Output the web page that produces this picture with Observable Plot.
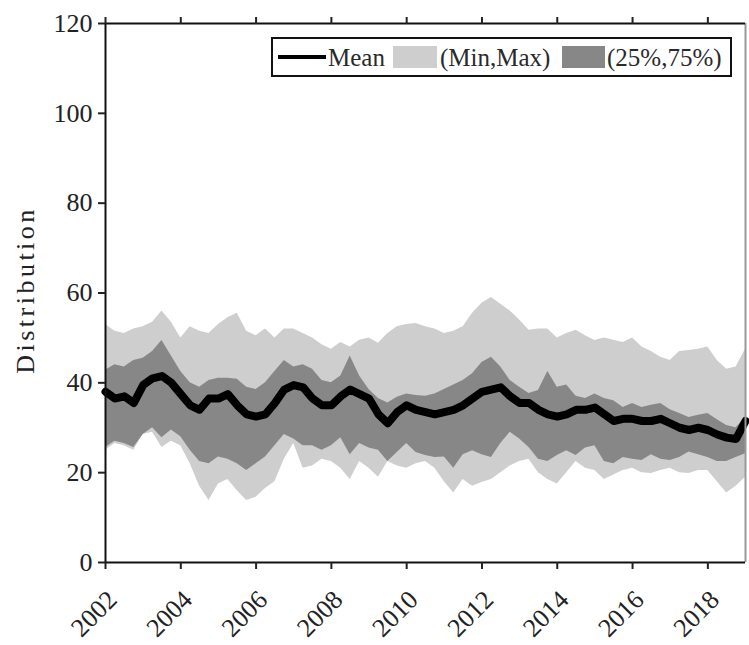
<!DOCTYPE html>
<html>
<head>
<meta charset="utf-8">
<script src="https://cdn.jsdelivr.net/npm/d3@7"></script>
<script src="https://cdn.jsdelivr.net/npm/@observablehq/plot@0.6"></script>
<style>
  html, body { margin: 0; padding: 0; background: #fff; }
  #chart svg { display: block; }
</style>
</head>
<body>
<div id="chart"></div>
<script>
// Time (years, quarterly)
const years = d3.range(0, 69).map(i => 2002 + i * 0.25);

const meanV = [38,36.5,37,35.5,39.5,41,41.5,40,37.5,35,34,36.5,36.5,37.5,35,33,32.5,33,35.5,38.5,39.5,39,36.5,35,35,37,38.5,37.5,36.5,33,31,33.5,35,34,33.5,33,33.5,34,35,36.5,38,38.5,39,37,35.5,35.5,34,33,32.5,33,34,34,34.5,33,31.5,32,32,31.5,31.5,32,31,30,29.5,30,29.5,28.5,27.8,27.5,31.5];

const maxV = [53,51.5,51,52,52.5,53.5,56,53.5,50,52.5,51.5,51,53,54.5,55.5,51.5,50.5,52,50,52,52,51,50,48.5,47.5,49,48,49.5,50,48.8,51,52.5,53,53.2,52.5,52,51,51.5,52.5,55.5,57.7,59,57.5,56,54,51.7,52,52,50,51,51.7,50.5,49.4,50,49.5,49,50,48,47,45.7,45,47,47.2,47.5,48,45,43,43.5,47.5];

const minV = [25,26.5,26,25,28.5,29,25.6,27,26,22,17,13.8,17.5,18.5,16,13.8,14.5,16.5,18,23,26.5,21,21.5,23,22.5,21,18.5,22.5,21,19,22.5,21.5,21,22,22.5,21,18,15.5,18.5,17,17.8,18.5,20,21.5,22.5,23,20,18.5,17.5,20,22.5,21,20.5,18.5,19.5,20.5,21,20,19.8,20.5,21,20,19.8,20.5,20.5,18,15.5,17,19];

const q75V = [42.8,44,43.5,45,45.5,47,49.4,46,42.5,40,39,40.5,41,41,40.8,39,38.5,40,42.5,45,43.5,44,43,40.5,40,41.5,46,41.5,38.5,36.5,35.5,36.8,37.5,37.2,37,37.5,38.5,39.5,40.5,42,44.5,45.7,43.5,40.5,39,37.6,38.3,42.5,39,39.5,37,36.5,37.5,36.5,36,34.5,35.4,34.5,35,35.4,34,33.2,32.3,32.8,33.2,31.8,30.5,30,32.3];

const q25V = [25.6,27,26.5,25.6,28.5,30,27.8,29.5,28,25,22.5,22,23.5,23,22,20.5,22,23.5,26,28.5,27.5,26,26,25,26,27.8,24,26.5,25.5,25,22.5,24.5,26.5,24.5,23.8,23.4,23.5,21,24,24.9,24,23.4,26.5,29,27.5,25.6,23,22.5,23.8,24.9,23.8,25.5,26,22.5,22,23.4,23,22.7,24,23,22.7,23.4,24.6,24,23.4,22.5,22.5,23.4,24.2];

const xTicks = [2002,2004,2006,2008,2010,2012,2014,2016,2018];
const yTicks = [0,20,40,60,80,100,120];
const xDomain = [2002, 2019];
const yDomain = [0, 120];

const legendLabels = ["Mean", "(Min,Max)", "(25%,75%)"];
const yLabel = "Distribution";

const lightGray = "#cecece";
const darkGray = "#878787";

const data = years.map((t, i) => ({
  t, mean: meanV[i], min: minV[i], max: maxV[i], q25: q25V[i], q75: q75V[i]
}));

const FONT = "'Liberation Serif', 'DejaVu Serif', serif";

const chart = Plot.plot({
  width: 749,
  height: 645,
  marginLeft: 105,
  marginRight: 4,
  marginTop: 23,
  marginBottom: 83,
  style: { fontFamily: FONT, fontSize: "26px", color: "#222", background: "#fff" },
  x: { domain: xDomain },
  y: { domain: yDomain },
  marks: [
    Plot.areaY(data, { x: "t", y1: "min", y2: "max", fill: lightGray }),
    Plot.areaY(data, { x: "t", y1: "q25", y2: "q75", fill: darkGray }),
    Plot.line(data, { x: "t", y: "mean", stroke: "#000", strokeWidth: 8 }),
    Plot.ruleX([xDomain[1]], { stroke: "#999", strokeWidth: 2 }),
    Plot.ruleX([xDomain[0]], { stroke: "#111", strokeWidth: 2 }),
    Plot.ruleY([yDomain[0]], { stroke: "#111", strokeWidth: 2 }),
    Plot.ruleY([yDomain[1]], { stroke: "#111", strokeWidth: 2 }),
    // bottom ticks (no labels)
    Plot.axisX({ ticks: xTicks, tickFormat: () => "", tickSize: 7, strokeWidth: 2, label: null }),
    // bottom rotated labels, nudged like the reference
    Plot.axisX({ ticks: xTicks, tickFormat: d => String(d), tickRotate: -45, tickSize: 0, tickPadding: 29, dx: 7, dy: 4, label: null, fill: "#222" }),
    Plot.axisX({ anchor: "top", ticks: xTicks, tickFormat: () => "", tickSize: 7, strokeWidth: 2, label: null }),
    Plot.axisY({ ticks: yTicks, tickSize: 7, tickPadding: 6, strokeWidth: 2, label: null, fill: "#222" })
  ]
});

document.getElementById("chart").appendChild(chart);

// y-axis title
const svg = d3.select(chart);
svg.append("text")
  .attr("transform", "translate(34,290) rotate(-90)")
  .attr("text-anchor", "middle")
  .attr("font-family", FONT)
  .attr("font-size", 26)
  .attr("letter-spacing", "3.5px")
  .attr("fill", "#222")
  .text(yLabel);

// legend
const lg = svg.append("g").attr("font-family", FONT).attr("font-size", 25)
  .attr("fill", "#2a2a2a").attr("text-anchor", "start");
lg.append("rect").attr("x", 272).attr("y", 38).attr("width", 459).attr("height", 38)
  .attr("fill", "#fff").attr("stroke", "#111").attr("stroke-width", 2);
lg.append("line").attr("x1", 278).attr("x2", 326).attr("y1", 57).attr("y2", 57)
  .attr("stroke", "#000").attr("stroke-width", 4);
lg.append("text").attr("x", 328).attr("y", 66).attr("text-anchor", "start").text(legendLabels[0]);
lg.append("rect").attr("x", 393).attr("y", 46).attr("width", 44).attr("height", 22).attr("fill", lightGray);
lg.append("text").attr("x", 440).attr("y", 66).attr("text-anchor", "start").text(legendLabels[1]);
lg.append("rect").attr("x", 562).attr("y", 46).attr("width", 43).attr("height", 22).attr("fill", darkGray);
lg.append("text").attr("x", 607).attr("y", 66).attr("text-anchor", "start").text(legendLabels[2]);
</script>
</body>
</html>
